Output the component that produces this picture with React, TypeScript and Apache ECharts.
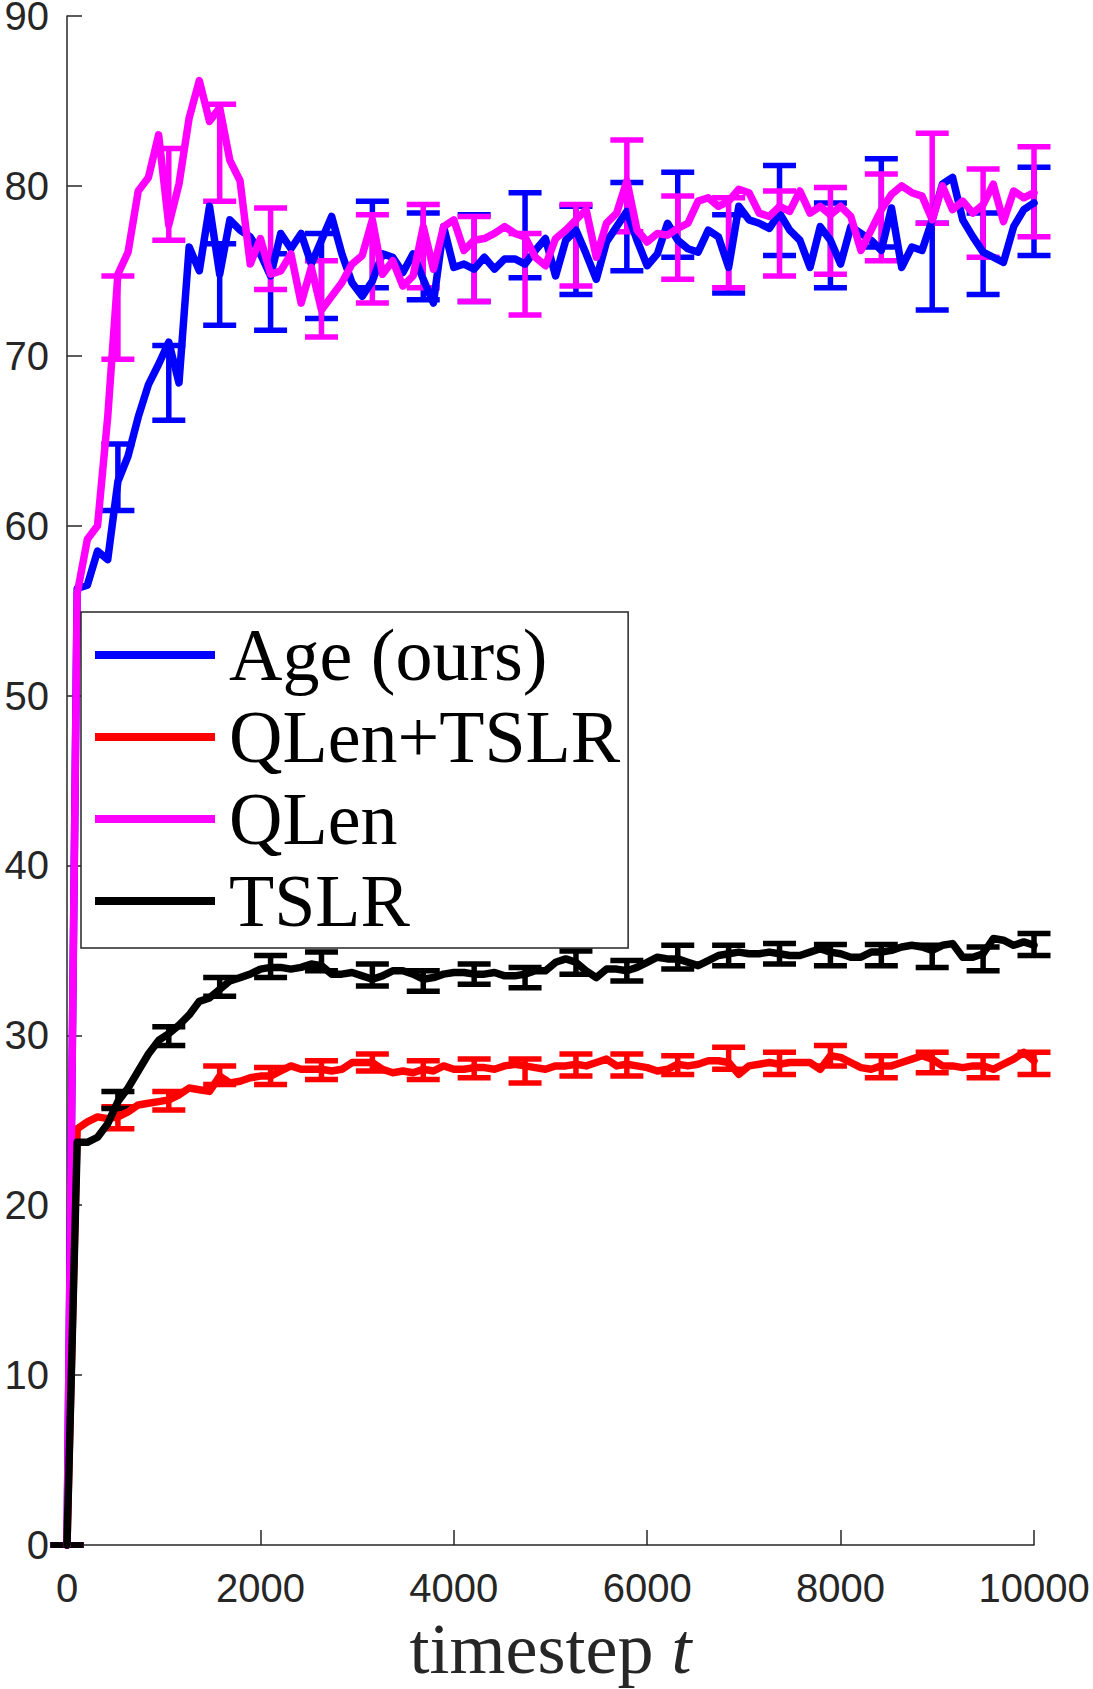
import React, { useEffect, useRef } from "react";
import * as echarts from "echarts";

// ---- data grid (sample timesteps) ----
const N_POINTS = 96;
const T_MAX = 10000;
const TIMESTEPS: number[] = Array.from({ length: N_POINTS }, (_, i) => (i * T_MAX) / (N_POINTS - 1));
const BAR_EVERY = 5;

const SERIES_NAMES = ["Age (ours)", "QLen+TSLR", "QLen", "TSLR"];
const COLORS = ["#0000FF", "#FF0000", "#FF00FF", "#000000"];

const X_TICK_INTERVAL = 2000;
const Y_TICK_INTERVAL = 10;

// ---- series values ----
const AGE = [
  0, 56.3, 56.5, 58.5, 58.0, 62.6, 64.1, 66.4, 68.3, 69.5,
  70.8, 68.4, 76.4, 75.0, 78.8, 74.8, 78.0, 77.4, 77.0, 76.0,
  74.7, 77.2, 76.3, 77.2, 75.4, 76.8, 78.2, 76.0, 74.3, 73.5,
  74.4, 76.0, 75.8, 74.9, 76.0, 74.5, 73.1, 77.6, 75.2, 75.4,
  75.1, 75.8, 75.1, 75.7, 75.7, 75.4, 76.2, 76.9, 74.7, 76.8,
  77.4, 76.0, 74.5, 76.7, 77.6, 78.5, 76.8, 75.3, 76.0, 77.8,
  76.8, 76.3, 76.1, 77.4, 77.0, 75.2, 78.8, 78.0, 77.8, 77.5,
  78.4, 77.4, 76.8, 75.2, 77.6, 76.8, 75.4, 77.6, 77.2, 76.8,
  76.2, 78.7, 75.2, 76.4, 76.2, 78.0, 80.1, 80.5, 78.0, 77.0,
  76.1, 75.8, 75.5, 77.6, 78.6, 79.0,
];

const QLEN_TSLR = [
  0, 24.5, 24.9, 25.2, 25.1, 25.2, 25.5, 25.9, 26.0, 26.1,
  26.2, 26.5, 26.9, 26.8, 26.7, 27.6, 27.2, 27.3, 27.5, 27.6,
  27.6, 27.9, 28.2, 28.0, 28.0, 28.0, 27.9, 28.0, 28.4, 28.4,
  28.4, 28.0, 27.8, 27.9, 27.8, 28.0, 27.9, 28.2, 28.0, 28.0,
  28.1, 28.1, 28.0, 28.2, 28.3, 28.2, 28.1, 28.0, 28.2, 28.2,
  28.3, 28.2, 28.4, 28.6, 28.2, 28.3, 28.2, 28.1, 27.9, 28.0,
  28.3, 28.2, 28.3, 28.5, 28.5, 28.4, 27.7, 28.2, 28.3, 28.4,
  28.3, 28.4, 28.4, 28.4, 28.0, 28.8, 28.7, 28.4, 28.1, 28.0,
  28.2, 28.2, 28.4, 28.6, 28.8, 28.6, 28.2, 28.2, 28.1, 28.2,
  28.2, 28.0, 28.3, 28.6, 29.0, 28.5,
];

const QLEN = [
  0, 56.0, 59.2, 60.0, 66.4, 74.8, 76.1, 79.7, 80.5, 83.0,
  77.7, 80.1, 84.0, 86.2, 83.8, 84.6, 81.5, 80.3, 75.4, 76.9,
  74.8, 75.0, 76.0, 73.1, 75.2, 72.7, 73.5, 74.3, 75.4, 75.9,
  78.0, 74.8, 75.6, 74.1, 74.7, 77.6, 75.1, 77.6, 78.0, 76.2,
  76.8, 76.9, 77.2, 77.6, 77.2, 77.0, 75.8, 75.3, 76.9, 77.4,
  78.0, 78.6, 75.8, 77.8, 78.4, 80.3, 77.4, 76.7, 77.2, 77.1,
  77.5, 77.8, 79.1, 79.3, 78.8, 79.1, 79.8, 79.6, 78.4, 78.2,
  78.8, 78.5, 79.7, 78.4, 78.8, 78.3, 78.8, 78.2, 76.2, 77.4,
  78.6, 79.5, 80.0, 79.6, 79.4, 78.0, 80.0, 78.6, 79.1, 78.4,
  78.9, 80.1, 77.9, 79.7, 79.3, 79.6,
];

const TSLR = [
  0, 23.7, 23.7, 24.0, 24.8, 26.1, 26.9, 27.9, 28.9, 29.7,
  30.1, 30.6, 31.2, 32.0, 32.2, 32.7, 33.2, 33.4, 33.6, 33.9,
  34.0, 34.0, 33.9, 34.0, 34.2, 34.1, 33.6, 33.6, 33.7, 33.5,
  33.3, 33.5, 33.8, 33.8, 33.6, 33.3, 33.4, 33.6, 33.7, 33.7,
  33.6, 33.6, 33.7, 33.5, 33.5, 33.6, 33.8, 33.8, 34.3, 34.5,
  34.3, 33.8, 33.4, 33.9, 33.9, 33.8, 34.0, 34.3, 34.6, 34.5,
  34.5, 34.3, 34.1, 34.4, 34.7, 34.8, 34.9, 34.8, 34.8, 34.9,
  34.8, 34.7, 34.7, 34.9, 35.1, 34.9, 34.8, 34.6, 34.6, 34.9,
  34.9, 35.0, 35.2, 35.3, 35.2, 35.0, 35.3, 35.4, 34.6, 34.6,
  34.8, 35.7, 35.6, 35.3, 35.5, 35.3,
];

// ---- error bars (every 5th sample: low / high) ----
const AGE_LO = [0, 60.9, 66.2, 71.8, 71.5, 72.2, 74.0, 73.3, 73.2, 74.6, 73.6, 75.0, 75.8, 73.7, 75.9, 74.0, 76.4, 72.7, 73.6, 75.9];
const AGE_HI = [0, 64.8, 70.6, 76.6, 76.0, 77.2, 79.1, 78.4, 78.3, 79.6, 78.8, 80.2, 80.8, 78.3, 81.2, 79.0, 81.6, 77.8, 78.4, 81.1];
const QLEN_TSLR_LO = [0, 24.5, 25.6, 27.1, 27.1, 27.4, 27.9, 27.4, 27.5, 27.2, 27.6, 27.6, 27.7, 28.0, 27.7, 28.2, 27.5, 27.8, 27.5, 27.7];
const QLEN_TSLR_HI = [0, 25.8, 26.7, 28.2, 28.1, 28.5, 28.9, 28.5, 28.6, 28.6, 28.9, 28.9, 28.8, 29.3, 29.0, 29.4, 28.8, 29.0, 28.8, 29.0];
const QLEN_LO = [0, 69.8, 76.8, 79.1, 73.9, 71.1, 73.1, 74.0, 73.2, 72.4, 74.1, 77.3, 74.5, 74.0, 74.7, 74.8, 75.6, 77.8, 75.8, 77.0];
const QLEN_HI = [0, 74.7, 82.2, 84.8, 78.7, 75.6, 78.3, 78.9, 78.2, 77.2, 78.9, 82.7, 79.4, 79.3, 79.7, 79.9, 80.7, 83.1, 81.0, 82.3];
const TSLR_LO = [0, 25.7, 29.4, 32.3, 33.4, 33.8, 32.9, 32.6, 33.0, 32.8, 33.6, 33.2, 33.9, 34.1, 34.2, 34.1, 34.1, 34.0, 33.8, 34.7];
const TSLR_HI = [0, 26.7, 30.5, 33.4, 34.7, 34.9, 34.2, 33.8, 34.2, 34.0, 34.96, 34.4, 35.3, 35.3, 35.4, 35.35, 35.35, 35.3, 35.2, 36.0];

const AXIS_COLOR = "#262626";

function errRender(color: string) {
  return (params: any, api: any) => {
    const x = api.value(0);
    const lo = api.coord([x, api.value(1)]);
    const hi = api.coord([x, api.value(2)]);
    const w = 16.5;
    const style = { stroke: color, lineWidth: 5.5, fill: null };
    return {
      type: "group",
      children: [
        { type: "line", shape: { x1: lo[0], y1: lo[1], x2: hi[0], y2: hi[1] }, style },
        { type: "line", shape: { x1: lo[0] - w, y1: lo[1], x2: lo[0] + w, y2: lo[1] }, style },
        { type: "line", shape: { x1: hi[0] - w, y1: hi[1], x2: hi[0] + w, y2: hi[1] }, style },
      ],
    };
  };
}

export default function App() {
  const ref = useRef<HTMLDivElement>(null);

  useEffect(() => {
    document.body.style.margin = "0";
    if (!ref.current) return;
    const chart = echarts.init(ref.current, undefined, { renderer: "svg" });

    const values = [AGE, QLEN_TSLR, QLEN, TSLR];
    const los = [AGE_LO, QLEN_TSLR_LO, QLEN_LO, TSLR_LO];
    const his = [AGE_HI, QLEN_TSLR_HI, QLEN_HI, TSLR_HI];

    const series: any[] = [];
    values.forEach((vals, s) => {
      series.push({
        type: "line",
        name: SERIES_NAMES[s],
        data: TIMESTEPS.map((t, i) => [t, vals[i]]),
        showSymbol: false,
        symbol: "none",
        clip: false,
        silent: true,
        itemStyle: { color: COLORS[s] },
        lineStyle: { color: COLORS[s], width: 7.5, cap: "round", join: "round" },
        emphasis: { disabled: true },
      });
      series.push({
        type: "custom",
        name: SERIES_NAMES[s] + " err",
        silent: true,
        clip: false,
        renderItem: errRender(COLORS[s]),
        encode: { x: 0, y: [1, 2] },
        data: los[s].map((lo, k) => [TIMESTEPS[k * BAR_EVERY], lo, his[s][k]]),
      });
    });

    chart.setOption({
      animation: false,
      textStyle: { fontFamily: "Liberation Sans" },
      grid: { left: 67, top: 16, right: 59, bottom: 144, containLabel: false, outerBoundsMode: "none" },
      xAxis: {
        type: "value",
        min: 0,
        max: T_MAX,
        interval: X_TICK_INTERVAL,
        axisLine: { show: true, onZero: false, lineStyle: { color: AXIS_COLOR, width: 1.5 } },
        axisTick: { show: true, inside: true, length: 15, lineStyle: { color: AXIS_COLOR, width: 1.5 } },
        axisLabel: {
          color: AXIS_COLOR,
          fontFamily: "Liberation Sans",
          fontSize: 40,
          margin: 23,
          formatter: (v: number) => String(v),
        },
        splitLine: { show: false },
        name: "{n|timestep }{i|t}",
        nameLocation: "middle",
        nameGap: 72,
        nameTextStyle: {
          lineHeight: 64,
          rich: {
            n: { fontFamily: "Liberation Serif", fontSize: 72, lineHeight: 64, color: AXIS_COLOR },
            i: { fontFamily: "Liberation Serif", fontStyle: "italic", fontSize: 72, lineHeight: 64, color: AXIS_COLOR },
          },
        },
      },
      yAxis: {
        type: "value",
        min: 0,
        max: 90,
        interval: Y_TICK_INTERVAL,
        axisLine: { show: true, lineStyle: { color: AXIS_COLOR, width: 1.5 } },
        axisTick: { show: true, inside: true, length: 15, lineStyle: { color: AXIS_COLOR, width: 1.5 } },
        axisLabel: {
          color: AXIS_COLOR,
          fontFamily: "Liberation Sans",
          fontSize: 40,
          lineHeight: 30,
          margin: 18,
          formatter: (v: number) => String(v),
        },
        splitLine: { show: false },
      },
      legend: {
        data: SERIES_NAMES,
        orient: "vertical",
        left: 81,
        top: 612,
        icon: "rect",
        itemWidth: 120,
        itemHeight: 8,
        itemGap: 0,
        padding: [2, 8, 6, 14],
        borderColor: AXIS_COLOR,
        borderWidth: 1.5,
        backgroundColor: "#ffffff",
        selectedMode: false,
        itemStyle: { borderWidth: 0 },
        textStyle: {
          fontFamily: "Liberation Serif",
          fontSize: 74,
          color: "#000000",
          lineHeight: 82,
          padding: [0, 0, 0, 9],
        },
      },
      series,
    });

    return () => chart.dispose();
  }, []);

  return <div ref={ref} style={{ width: 1093, height: 1689 }} />;
}
